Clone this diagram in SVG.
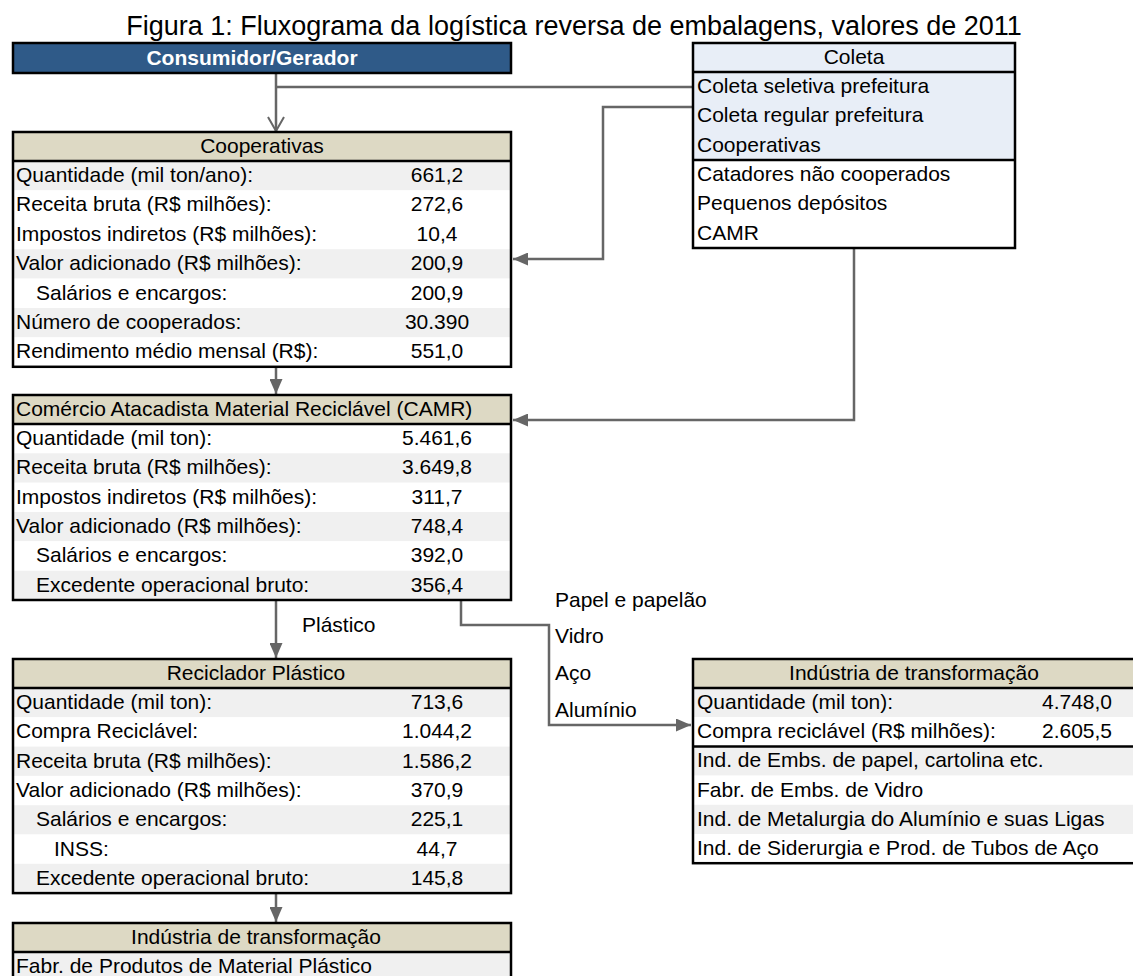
<svg xmlns="http://www.w3.org/2000/svg" width="1133" height="976" viewBox="0 0 1133 976">
<defs>
<marker id="arr" markerUnits="userSpaceOnUse" markerWidth="15" markerHeight="13" refX="15" refY="6.5" orient="auto"><path d="M0,0 L15,6.5 L0,13 z" fill="#666"/></marker>
<marker id="varr" markerUnits="userSpaceOnUse" markerWidth="16" markerHeight="18" refX="15" refY="9" orient="auto"><path d="M1,1 L15,9 L1,17" fill="none" stroke="#666" stroke-width="2"/></marker>
</defs>
<style>
text{font-family:"Liberation Sans",Arial,sans-serif;font-size:21px;fill:#000}
.t{font-size:27px}
.c{text-anchor:middle}
.hd{fill:#ddd9c4}
.g{fill:#f0f0f0}
.w{fill:#fff}
.b{fill:#e8eef7}
.frame{fill:none;stroke:#000;stroke-width:2.5}
.sep{stroke:#000;stroke-width:2.5}
.conn{fill:none;stroke:#666;stroke-width:2.5}
.wt{fill:#fff;font-weight:bold}
</style>
<rect width="1133" height="976" fill="#fff"/>
<text class="t c" x="574" y="35">Figura 1: Fluxograma da logística reversa de embalagens, valores de 2011</text>

<g id="connectors">
<path class="conn" d="M276,73 V131" marker-end="url(#varr)"/>
<path class="conn" d="M276,87 H693"/>
<path class="conn" d="M693,107 H603 V259 H513" marker-end="url(#arr)"/>
<path class="conn" d="M854,248 V420 H513" marker-end="url(#arr)"/>
<path class="conn" d="M276,367 V394" marker-end="url(#arr)"/>
<path class="conn" d="M276,600 V658" marker-end="url(#arr)"/>
<path class="conn" d="M461,600 V625 H549 V725 H691" marker-end="url(#arr)"/>
<path class="conn" d="M276,893 V922" marker-end="url(#arr)"/>
<text x="302" y="632">Plástico</text>
<text x="555" y="607">Papel e papelão</text>
<text x="555" y="643">Vidro</text>
<text x="555" y="680">Aço</text>
<text x="555" y="717">Alumínio</text>
</g>

<g id="consumidor">
<rect x="13" y="43" width="498" height="30" fill="#2f5a88" stroke="#000" stroke-width="2.5"/>
<text class="c wt" x="252" y="65">Consumidor/Gerador</text>
</g>

<g id="coleta">
<rect class="b" x="693" y="43" width="322" height="117"/>
<rect class="w" x="693" y="160" width="322" height="88"/>
<line class="sep" x1="693" y1="72" x2="1015" y2="72"/>
<line class="sep" x1="693" y1="160" x2="1015" y2="160"/>
<rect class="frame" x="693" y="43" width="322" height="205"/>
<text class="c" x="854" y="64">Coleta</text>
<text x="697" y="93">Coleta seletiva prefeitura</text>
<text x="697" y="122.3">Coleta regular prefeitura</text>
<text x="697" y="151.7">Cooperativas</text>
<text x="697" y="181">Catadores não cooperados</text>
<text x="697" y="210.3">Pequenos depósitos</text>
<text x="697" y="239.7">CAMR</text>
</g>

<g id="cooperativas">
<rect class="hd" x="13" y="132" width="498" height="29"/>
<rect class="g" x="13" y="161" width="498" height="29.4"/>
<rect class="w" x="13" y="190.4" width="498" height="58.8"/>
<rect class="g" x="13" y="249.2" width="498" height="29.4"/>
<rect class="w" x="13" y="278.6" width="498" height="29.4"/>
<rect class="g" x="13" y="308" width="498" height="29.4"/>
<rect class="w" x="13" y="337.4" width="498" height="29.4"/>
<line class="sep" x1="13" y1="161" x2="511" y2="161"/>
<rect class="frame" x="13" y="132" width="498" height="234.8"/>
<text class="c" x="262" y="153">Cooperativas</text>
<text x="16" y="182">Quantidade (mil ton/ano):</text><text class="c" x="437" y="182">661,2</text>
<text x="16" y="211.4">Receita bruta (R$ milhões):</text><text class="c" x="437" y="211.4">272,6</text>
<text x="16" y="240.8">Impostos indiretos (R$ milhões):</text><text class="c" x="437" y="240.8">10,4</text>
<text x="16" y="270.2">Valor adicionado (R$ milhões):</text><text class="c" x="437" y="270.2">200,9</text>
<text x="36" y="299.6">Salários e encargos:</text><text class="c" x="437" y="299.6">200,9</text>
<text x="16" y="329">Número de cooperados:</text><text class="c" x="437" y="329">30.390</text>
<text x="16" y="358.4">Rendimento médio mensal (R$):</text><text class="c" x="437" y="358.4">551,0</text>
</g>

<g id="camr">
<rect class="hd" x="13" y="395" width="498" height="29"/>
<rect class="w" x="13" y="424" width="498" height="29.3"/>
<rect class="g" x="13" y="453.3" width="498" height="29.4"/>
<rect class="w" x="13" y="482.7" width="498" height="29.3"/>
<rect class="g" x="13" y="512" width="498" height="29.3"/>
<rect class="w" x="13" y="541.3" width="498" height="29.4"/>
<rect class="g" x="13" y="570.7" width="498" height="29.3"/>
<line class="sep" x1="13" y1="424" x2="511" y2="424"/>
<rect class="frame" x="13" y="395" width="498" height="205"/>
<text x="16" y="416">Comércio Atacadista Material Reciclável (CAMR)</text>
<text x="16" y="445">Quantidade (mil ton):</text><text class="c" x="437" y="445">5.461,6</text>
<text x="16" y="474.3">Receita bruta (R$ milhões):</text><text class="c" x="437" y="474.3">3.649,8</text>
<text x="16" y="503.7">Impostos indiretos (R$ milhões):</text><text class="c" x="437" y="503.7">311,7</text>
<text x="16" y="533">Valor adicionado (R$ milhões):</text><text class="c" x="437" y="533">748,4</text>
<text x="36" y="562.3">Salários e encargos:</text><text class="c" x="437" y="562.3">392,0</text>
<text x="36" y="591.7">Excedente operacional bruto:</text><text class="c" x="437" y="591.7">356,4</text>
</g>

<g id="reciclador">
<rect class="hd" x="13" y="659" width="498" height="29"/>
<rect class="g" x="13" y="688" width="498" height="29.3"/>
<rect class="w" x="13" y="717.3" width="498" height="29.3"/>
<rect class="g" x="13" y="746.6" width="498" height="29.3"/>
<rect class="w" x="13" y="775.9" width="498" height="29.3"/>
<rect class="g" x="13" y="805.2" width="498" height="29.3"/>
<rect class="w" x="13" y="834.5" width="498" height="29.3"/>
<rect class="g" x="13" y="863.8" width="498" height="29.3"/>
<line class="sep" x1="13" y1="688" x2="511" y2="688"/>
<rect class="frame" x="13" y="659" width="498" height="234.1"/>
<text class="c" x="256" y="680">Reciclador Plástico</text>
<text x="16" y="709">Quantidade (mil ton):</text><text class="c" x="437" y="709">713,6</text>
<text x="16" y="738.3">Compra Reciclável:</text><text class="c" x="437" y="738.3">1.044,2</text>
<text x="16" y="767.6">Receita bruta (R$ milhões):</text><text class="c" x="437" y="767.6">1.586,2</text>
<text x="16" y="796.9">Valor adicionado (R$ milhões):</text><text class="c" x="437" y="796.9">370,9</text>
<text x="36" y="826.2">Salários e encargos:</text><text class="c" x="437" y="826.2">225,1</text>
<text x="54" y="855.5">INSS:</text><text class="c" x="437" y="855.5">44,7</text>
<text x="36" y="884.8">Excedente operacional bruto:</text><text class="c" x="437" y="884.8">145,8</text>
</g>

<g id="industria-plastico">
<rect class="hd" x="13" y="923" width="498" height="29"/>
<rect class="g" x="13" y="952" width="498" height="30"/>
<line class="sep" x1="13" y1="952" x2="511" y2="952"/>
<rect class="frame" x="13" y="923" width="498" height="60"/>
<text class="c" x="256" y="944">Indústria de transformação</text>
<text x="16" y="973">Fabr. de Produtos de Material Plástico</text>
</g>

<g id="industria">
<rect class="hd" x="693" y="659" width="442" height="29"/>
<rect class="g" x="693" y="688" width="442" height="29.2"/>
<rect class="w" x="693" y="717.2" width="442" height="29.2"/>
<rect class="g" x="693" y="746.4" width="442" height="29.2"/>
<rect class="w" x="693" y="775.6" width="442" height="29.2"/>
<rect class="g" x="693" y="804.8" width="442" height="29.2"/>
<rect class="w" x="693" y="834" width="442" height="29.2"/>
<line class="sep" x1="693" y1="688" x2="1135" y2="688"/>
<line class="sep" x1="693" y1="746.4" x2="1135" y2="746.4"/>
<rect class="frame" x="693" y="659" width="442" height="204.2"/>
<text class="c" x="914" y="680">Indústria de transformação</text>
<text x="697" y="709">Quantidade (mil ton):</text><text class="c" x="1077" y="709">4.748,0</text>
<text x="697" y="738.2">Compra reciclável (R$ milhões):</text><text class="c" x="1077" y="738.2">2.605,5</text>
<text x="697" y="767.4">Ind. de Embs. de papel, cartolina etc.</text>
<text x="697" y="796.6">Fabr. de Embs. de Vidro</text>
<text x="697" y="825.8">Ind. de Metalurgia do Alumínio e suas Ligas</text>
<text x="697" y="855">Ind. de Siderurgia e Prod. de Tubos de Aço</text>
</g>
</svg>
